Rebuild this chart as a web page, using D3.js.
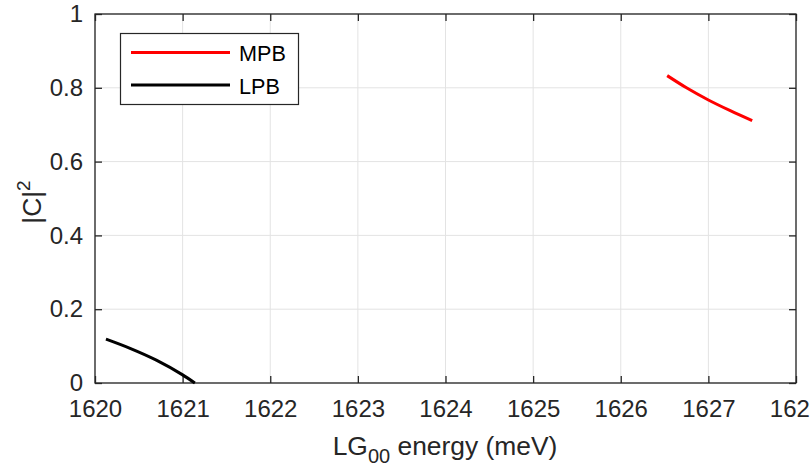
<!DOCTYPE html>
<html>
<head>
<meta charset="utf-8">
<script src="https://cdn.jsdelivr.net/npm/d3@7"></script>
<style>
  body { margin: 0; background: #fff; overflow: hidden; }
  svg { font-family: "Liberation Sans", Arial, Helvetica, sans-serif; }
</style>
</head>
<body>
<svg id="chart" width="810" height="466"></svg>
<script>
// values
const mpbX = [1626.53, 1626.75, 1627.0, 1627.25, 1627.5];
const mpbY = [0.833, 0.800, 0.767, 0.738, 0.711];
const lpbX = [1620.125, 1620.4, 1620.7, 1621.0, 1621.14];
const lpbY = [0.119, 0.094, 0.062, 0.022, 0.0];
const xTicks = [1620, 1621, 1622, 1623, 1624, 1625, 1626, 1627, 1628];
const yTicks = [0, 0.2, 0.4, 0.6, 0.8, 1];

const AXIS_COLOR = "#262626";
const GRID_COLOR = "#e3e3e3";
const TICK_FONT = 24;
const LABEL_FONT = 26.4;
const LEGEND_FONT = 21.6;

const margin = {left: 95, top: 14, right: 796, bottom: 383};

const svg = d3.select("#chart");

const x = d3.scaleLinear().domain([1620, 1628]).range([margin.left, margin.right]);
const y = d3.scaleLinear().domain([0, 1]).range([margin.bottom, margin.top]);

// grid
const grid = svg.append("g");
grid.selectAll(".gx").data(xTicks).enter().append("line")
    .attr("x1", d => x(d)).attr("x2", d => x(d))
    .attr("y1", margin.top).attr("y2", margin.bottom)
    .attr("stroke", GRID_COLOR).attr("stroke-width", 1);
grid.selectAll(".gy").data(yTicks).enter().append("line")
    .attr("x1", margin.left).attr("x2", margin.right)
    .attr("y1", d => y(d)).attr("y2", d => y(d))
    .attr("stroke", GRID_COLOR).attr("stroke-width", 1);

// axes (ticks inward, box on)
function styleAxis(g){
    g.select(".domain").remove();
    g.selectAll(".tick line").attr("stroke", AXIS_COLOR).attr("stroke-width", 1.3);
    g.selectAll(".tick text").attr("fill", AXIS_COLOR).attr("font-size", TICK_FONT)
        .attr("font-family", "Liberation Sans, Arial, sans-serif");
}

svg.append("g").attr("transform", `translate(0,${margin.bottom})`)
    .call(d3.axisBottom(x).tickValues(xTicks).tickFormat(d3.format("d")).tickSizeInner(-7).tickSizeOuter(0).tickPadding(17))
    .call(styleAxis);
svg.append("g").attr("transform", `translate(0,${margin.top})`)
    .call(d3.axisTop(x).tickValues(xTicks).tickFormat("").tickSizeInner(-7).tickSizeOuter(0))
    .call(styleAxis);
svg.append("g").attr("transform", `translate(${margin.left},0)`)
    .call(d3.axisLeft(y).tickValues(yTicks).tickFormat(d => d === 0 || d === 1 ? d3.format("d")(d) : d3.format(".1f")(d)).tickSizeInner(-7).tickSizeOuter(0).tickPadding(12))
    .call(styleAxis);
svg.append("g").attr("transform", `translate(${margin.right},0)`)
    .call(d3.axisRight(y).tickValues(yTicks).tickFormat("").tickSizeInner(-7).tickSizeOuter(0))
    .call(styleAxis);

// box
svg.append("rect")
    .attr("x", margin.left).attr("y", margin.top)
    .attr("width", margin.right - margin.left).attr("height", margin.bottom - margin.top)
    .attr("fill", "none").attr("stroke", AXIS_COLOR).attr("stroke-width", 1.3);

// curves
const line = d3.line().x(d => x(d[0])).y(d => y(d[1])).curve(d3.curveMonotoneX);
svg.append("path").datum(d3.zip(mpbX, mpbY))
    .attr("d", line).attr("fill", "none").attr("stroke", "#ff0000").attr("stroke-width", 3);
svg.append("path").datum(d3.zip(lpbX, lpbY))
    .attr("d", line).attr("fill", "none").attr("stroke", "#000000").attr("stroke-width", 3);

// legend
const legend = svg.append("g");
legend.append("rect").attr("x", 120.5).attr("y", 33.5).attr("width", 178).attr("height", 71)
    .attr("fill", "#fff").attr("stroke", AXIS_COLOR).attr("stroke-width", 1.2);
const legendItems = [["MPB", "#ff0000"], ["LPB", "#000000"]];
legendItems.forEach((it, i) => {
    const ly = 52.5 + i * 32.5;
    legend.append("line").attr("x1", 131).attr("x2", 230).attr("y1", ly).attr("y2", ly)
        .attr("stroke", it[1]).attr("stroke-width", 3);
    legend.append("text").attr("x", 239).attr("y", ly + 8.5).attr("font-size", LEGEND_FONT)
        .attr("fill", "#000").text(it[0]);
});

// axis labels
const xl = svg.append("text").attr("x", 445).attr("y", 455).attr("text-anchor", "middle")
    .attr("font-size", LABEL_FONT).attr("fill", AXIS_COLOR);
xl.append("tspan").text("LG");
xl.append("tspan").attr("font-size", 20).attr("dy", 8).text("00");
xl.append("tspan").attr("dy", -8).text(" energy (meV)");

const yl = svg.append("text").attr("transform", "translate(41,202) rotate(-90)")
    .attr("text-anchor", "middle").attr("font-size", LABEL_FONT).attr("fill", AXIS_COLOR);
yl.append("tspan").text("|C|");
yl.append("tspan").attr("font-size", 19).attr("dy", -11).text("2");
</script>
</body>
</html>
